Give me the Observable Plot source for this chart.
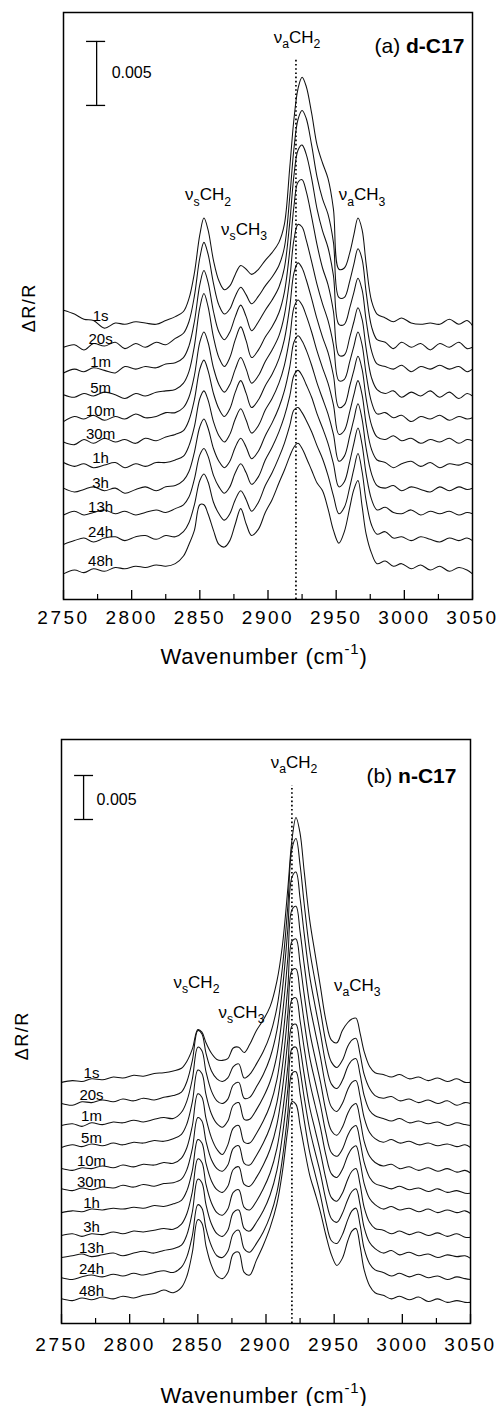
<!DOCTYPE html>
<html>
<head>
<meta charset="utf-8">
<script src="https://cdn.jsdelivr.net/npm/d3@7"></script>
<script src="https://cdn.jsdelivr.net/npm/@observablehq/plot@0.6"></script>
<style>
  html, body { margin: 0; padding: 0; background: #fff; }
  #chart { width: 500px; }
  #chart svg { display: block; }
  .tl text { letter-spacing: 2.5px; }
  .ylab text { letter-spacing: 1.5px; }
  .title text { letter-spacing: 0.8px; }
</style>
</head>
<body>
<div id="chart"></div>
<script>
// ---------------- DATA ----------------
// Wavenumber sampling (cm-1)
const wavenumbers = [2750, 2758, 2765, 2772, 2780, 2788, 2795, 2803, 2810, 2818, 2825, 2832, 2838, 2842, 2846, 2850, 2853, 2856, 2860, 2864, 2868, 2872, 2876, 2880, 2884, 2888, 2893, 2898, 2903, 2908, 2912, 2916, 2919, 2922, 2925, 2928, 2932, 2936, 2940, 2944, 2948, 2952, 2956, 2960, 2963, 2966, 2969, 2972, 2976, 2980, 2986, 2992, 2998, 3005, 3012, 3019, 3026, 3033, 3040, 3046, 3050];
const seriesNames = ["1s", "20s", "1m", "5m", "10m", "30m", "1h", "3h", "13h", "24h", "48h"];

// Panel (a) d-C17 : spectra in units of 1e-3 ΔR/R relative to each stacking offset
const offsetsA = [21.5, 19.7, 17.9, 15.9, 14.1, 12.3, 10.4, 8.5, 6.6, 4.6, 2.4];
const a1s  = [1.1, 0.8, 0.4, 0.3, -0.3, 0.1, 0.0, 0.2, 0.1, 0.0, 0.3, 0.6, 1.0, 2.0, 4.0, 7.0, 8.3, 7.4, 5.0, 3.4, 2.7, 3.0, 3.9, 4.6, 4.3, 3.9, 4.3, 5.0, 5.6, 6.4, 7.8, 12.3, 16.0, 18.4, 19.3, 18.6, 16.5, 14.0, 12.6, 11.4, 9.0, 4.3, 4.4, 5.6, 7.0, 8.3, 7.4, 4.7, 1.8, 0.8, 0.5, 0.2, 0.5, 0.1, 0.0, 0.1, 0.0, 0.4, 0.0, 0.3, -0.1];
const a20s = [0.0, 0.2, -0.2, 0.3, 0.1, 0.4, -0.1, 0.3, 0.0, 0.4, 0.2, 0.7, 1.1, 2.0, 4.0, 7.0, 8.2, 7.3, 5.0, 3.3, 2.6, 3.0, 4.0, 4.7, 4.1, 3.4, 4.0, 4.8, 5.5, 6.4, 7.8, 11.8, 15.5, 17.8, 18.5, 17.9, 15.8, 13.3, 11.6, 10.4, 8.2, 3.9, 3.9, 5.2, 6.5, 7.7, 6.9, 4.3, 1.6, 0.6, 0.4, -0.1, 0.4, 0.0, 0.3, -0.2, 0.3, 0.0, 0.4, -0.1, 0.0];
const a1m  = [-0.2, 0.1, -0.1, 0.2, 0.0, -0.2, 0.3, 0.1, 0.3, 0.2, 0.5, 0.6, 1.0, 1.9, 3.8, 6.7, 7.8, 6.9, 4.6, 3.0, 2.4, 3.0, 4.2, 5.1, 4.2, 3.1, 3.8, 4.7, 5.5, 6.5, 8.0, 11.6, 15.2, 17.2, 17.6, 16.9, 15.0, 12.6, 10.9, 9.6, 7.4, 3.6, 3.6, 4.9, 6.1, 7.2, 6.3, 3.9, 1.5, 0.5, 0.3, 0.1, 0.4, -0.1, 0.3, 0.1, 0.4, 0.1, 0.3, -0.1, 0.1];
const a5m  = [0.1, -0.1, 0.2, 0.0, 0.3, 0.1, -0.2, 0.2, 0.0, 0.3, 0.4, 0.5, 1.0, 1.9, 3.9, 6.9, 8.0, 7.0, 4.6, 3.0, 2.3, 3.0, 4.4, 5.4, 4.3, 3.0, 3.6, 4.6, 5.4, 6.5, 8.1, 11.4, 14.8, 16.7, 16.9, 16.0, 14.0, 11.8, 10.0, 8.7, 6.6, 3.2, 3.2, 4.6, 5.8, 6.9, 6.0, 3.7, 1.4, 0.5, 0.2, 0.4, -0.1, 0.3, 0.0, 0.4, -0.1, 0.3, -0.2, 0.2, 0.0];
const a10m = [-0.2, 0.2, 0.0, 0.3, -0.1, 0.2, 0.0, 0.4, 0.1, 0.2, 0.5, 0.5, 0.9, 1.7, 3.4, 6.0, 6.8, 6.0, 4.0, 2.7, 2.1, 2.7, 3.9, 4.8, 3.9, 2.8, 3.4, 4.5, 5.4, 6.5, 8.1, 11.0, 14.0, 15.2, 15.0, 14.0, 12.3, 10.5, 9.0, 7.7, 5.8, 3.0, 3.1, 4.5, 5.7, 6.8, 5.8, 3.5, 1.3, 0.4, 0.5, 0.1, 0.3, -0.2, 0.2, 0.0, 0.3, -0.1, 0.2, 0.0, 0.1];
const a30m = [0.0, -0.2, 0.2, -0.1, 0.3, 0.0, 0.2, -0.1, 0.3, 0.1, 0.4, 0.6, 0.9, 1.7, 3.3, 5.7, 6.4, 5.6, 3.8, 2.6, 2.0, 2.6, 3.9, 4.8, 3.8, 2.7, 3.3, 4.4, 5.3, 6.5, 8.0, 10.6, 13.2, 14.0, 13.6, 12.7, 11.2, 9.6, 8.2, 7.0, 5.2, 2.7, 2.9, 4.4, 5.6, 6.7, 5.7, 3.4, 1.3, 0.4, 0.2, 0.5, 0.1, 0.3, -0.1, 0.2, 0.0, 0.3, -0.1, 0.2, 0.1];
const a1h  = [0.3, 0.0, 0.2, -0.1, 0.1, 0.3, -0.1, 0.2, 0.0, 0.3, 0.3, 0.5, 0.8, 1.6, 3.1, 5.3, 5.9, 5.2, 3.5, 2.4, 1.9, 2.5, 3.7, 4.5, 3.6, 2.6, 3.2, 4.4, 5.3, 6.5, 7.9, 10.1, 12.4, 13.0, 12.6, 11.8, 10.5, 9.0, 7.7, 6.5, 4.8, 2.5, 2.8, 4.3, 5.6, 6.7, 5.6, 3.3, 1.3, 0.5, 0.3, -0.1, 0.2, 0.4, 0.0, 0.3, -0.1, 0.2, 0.1, 0.3, 0.1];
const a3h  = [0.2, -0.1, 0.1, 0.3, 0.0, 0.2, -0.2, 0.1, 0.3, 0.0, 0.3, 0.4, 0.8, 1.5, 3.0, 5.0, 5.6, 4.9, 3.3, 2.3, 1.8, 2.3, 3.4, 4.1, 3.4, 2.5, 3.1, 4.3, 5.3, 6.5, 7.8, 9.7, 11.6, 12.1, 11.7, 11.0, 9.8, 8.4, 7.2, 6.0, 4.4, 2.3, 2.7, 4.3, 5.6, 6.8, 5.6, 3.3, 1.3, 0.4, 0.2, 0.4, 0.0, 0.3, 0.1, -0.1, 0.3, 0.0, 0.3, 0.1, 0.2];
const a13h = [0.0, 0.3, 0.0, 0.2, 0.4, 0.1, 0.3, 0.0, 0.2, 0.4, 0.2, 0.5, 0.8, 1.4, 2.8, 4.7, 5.2, 4.6, 3.1, 2.2, 1.7, 2.2, 3.3, 4.0, 3.3, 2.4, 3.0, 4.3, 5.3, 6.5, 7.7, 9.3, 10.9, 11.3, 10.9, 10.2, 9.2, 7.9, 6.8, 5.6, 4.0, 2.2, 2.6, 4.2, 5.6, 6.8, 5.5, 3.2, 1.2, 0.4, 0.6, 0.2, 0.1, 0.4, 0.0, 0.3, 0.1, 0.3, 0.0, 0.2, 0.1];
const a24h = [-0.3, 0.0, 0.2, -0.1, 0.2, 0.3, 0.0, 0.3, 0.4, 0.1, 0.4, 0.3, 0.7, 1.4, 2.8, 4.7, 5.2, 4.6, 3.0, 2.1, 1.6, 2.1, 3.2, 3.9, 3.2, 2.3, 3.0, 4.3, 5.3, 6.5, 7.6, 9.0, 10.2, 10.4, 10.0, 9.4, 8.5, 7.4, 6.4, 5.1, 3.5, 2.1, 2.6, 4.2, 5.6, 6.8, 5.4, 3.1, 1.2, 0.5, 0.7, 0.2, 0.3, 0.0, 0.3, 0.1, -0.1, 0.2, 0.0, 0.2, 0.0];
const a48h = [-0.4, -0.1, -0.3, 0.0, -0.2, 0.1, 0.0, 0.2, 0.1, 0.3, 0.2, 0.4, 1.0, 1.9, 3.0, 5.0, 5.0, 4.3, 3.0, 1.9, 1.7, 2.2, 3.5, 4.7, 3.5, 2.6, 3.1, 4.4, 5.4, 6.7, 7.7, 8.8, 9.5, 9.8, 9.4, 8.7, 7.7, 6.7, 6.1, 4.7, 3.0, 2.0, 2.9, 4.8, 6.2, 6.9, 4.9, 2.7, 1.2, 0.4, 0.6, 0.2, 0.4, 0.0, 0.3, -0.1, 0.2, -0.2, 0.1, -0.1, -0.4];

// Panel (b) n-C17
const offsetsB = [27.4, 24.9, 22.5, 20.0, 17.4, 15.0, 12.6, 9.9, 7.5, 5.1, 2.6];
const b1s  = [0.0, 0.2, 0.1, 0.4, 0.3, 0.6, 0.5, 0.8, 0.7, 1.0, 1.1, 1.3, 1.6, 2.4, 3.8, 6.0, 5.7, 4.5, 3.3, 2.6, 2.5, 2.7, 3.9, 4.0, 3.4, 4.3, 5.9, 7.1, 8.6, 11.5, 15.5, 22.0, 27.5, 30.1, 28.3, 24.0, 18.5, 14.6, 10.8, 7.0, 4.8, 4.5, 5.9, 6.8, 7.2, 7.3, 5.6, 3.5, 1.8, 1.1, 0.9, 0.6, 0.9, 0.4, 0.6, 0.2, 0.5, 0.1, 0.4, 0.0, 0.0];
const b20s = [0.1, -0.1, 0.3, 0.2, 0.5, 0.3, 0.6, 0.4, 0.7, 0.5, 0.8, 1.0, 1.4, 2.6, 5.0, 8.4, 8.0, 5.8, 3.8, 2.9, 2.6, 3.0, 4.3, 4.6, 3.0, 3.4, 4.6, 6.0, 7.9, 11.0, 15.5, 22.5, 29.0, 30.2, 27.2, 22.8, 17.6, 14.0, 10.6, 7.0, 4.8, 4.2, 5.0, 6.6, 7.3, 7.5, 5.7, 3.4, 1.8, 1.0, 0.7, 0.9, 0.4, 0.6, 0.2, 0.5, 0.1, 0.4, -0.1, 0.2, 0.1];
const b1m  = [0.0, 0.2, -0.1, 0.3, 0.1, 0.4, 0.3, 0.6, 0.4, 0.7, 0.9, 0.8, 1.5, 2.8, 5.3, 8.9, 8.5, 6.1, 3.9, 2.8, 2.5, 3.0, 4.6, 4.9, 3.1, 3.2, 4.4, 5.8, 7.7, 10.8, 15.4, 22.3, 28.2, 28.8, 25.8, 21.8, 17.0, 13.6, 10.4, 6.9, 4.7, 4.2, 5.1, 6.7, 7.4, 7.6, 5.8, 3.4, 1.7, 1.1, 0.8, 0.5, 0.8, 0.3, 0.5, 0.2, 0.4, 0.0, 0.3, 0.1, 0.0];
const b5m  = [0.0, 0.3, 0.1, 0.4, 0.2, 0.5, 0.3, 0.6, 0.5, 0.8, 0.7, 1.0, 1.5, 2.7, 5.2, 8.8, 8.4, 6.0, 3.8, 2.7, 2.3, 3.0, 4.8, 5.1, 3.2, 3.2, 4.3, 5.7, 7.5, 10.5, 15.0, 21.5, 27.0, 27.4, 24.5, 20.8, 16.3, 13.2, 10.2, 6.8, 4.6, 4.1, 5.0, 6.6, 7.4, 7.6, 5.8, 3.4, 1.7, 1.0, 0.6, 0.9, 0.5, 0.7, 0.3, 0.5, 0.2, 0.4, 0.1, 0.3, 0.0];
const b10m = [0.2, 0.0, 0.3, 0.2, 0.5, 0.3, 0.6, 0.4, 0.7, 0.6, 0.9, 0.8, 1.4, 2.6, 5.1, 8.7, 8.3, 5.9, 3.7, 2.4, 1.8, 2.9, 4.8, 5.1, 3.2, 3.1, 4.2, 5.6, 7.4, 10.3, 14.6, 20.8, 26.0, 26.3, 23.5, 20.0, 15.8, 12.8, 10.0, 6.7, 4.5, 4.0, 4.9, 6.5, 7.3, 7.6, 5.8, 3.3, 1.6, 0.9, 0.5, 0.7, 0.2, 0.4, 0.0, 0.3, -0.1, 0.2, -0.2, 0.0, -0.3];
const b30m = [0.3, 0.1, 0.4, 0.2, 0.5, 0.4, 0.7, 0.5, 0.8, 0.6, 0.9, 1.0, 1.4, 2.5, 4.9, 8.4, 8.0, 5.7, 3.6, 2.6, 2.3, 3.0, 4.9, 5.2, 3.2, 3.0, 4.1, 5.5, 7.3, 10.1, 14.2, 20.2, 25.1, 25.3, 22.6, 19.3, 15.3, 12.5, 9.8, 6.6, 4.4, 4.0, 4.8, 6.4, 7.2, 7.5, 5.7, 3.3, 1.6, 0.9, 0.6, 0.3, 0.6, 0.2, 0.4, 0.0, 0.3, -0.1, 0.1, -0.2, -0.2];
const b1h  = [0.0, 0.2, 0.1, 0.4, 0.3, 0.5, 0.4, 0.6, 0.5, 0.8, 0.7, 1.0, 1.4, 2.5, 4.8, 8.3, 7.9, 5.6, 3.6, 2.6, 2.3, 3.0, 4.9, 5.2, 3.2, 3.0, 4.0, 5.4, 7.2, 10.0, 14.0, 19.6, 24.2, 24.4, 21.8, 18.7, 14.9, 12.2, 9.6, 6.5, 4.4, 4.0, 4.9, 6.5, 7.3, 7.6, 5.8, 3.3, 1.6, 0.9, 0.4, 0.7, 0.3, 0.5, 0.1, 0.4, 0.0, 0.3, 0.0, 0.2, -0.1];
const b3h  = [0.1, 0.3, 0.0, 0.3, 0.2, 0.5, 0.3, 0.6, 0.5, 0.7, 0.9, 0.8, 1.4, 2.6, 5.1, 8.8, 8.4, 5.9, 3.8, 2.7, 2.4, 3.1, 5.0, 5.3, 3.3, 3.0, 4.0, 5.4, 7.2, 10.0, 13.9, 19.3, 23.9, 24.1, 21.5, 18.4, 14.7, 12.1, 9.5, 6.5, 4.4, 4.0, 4.9, 6.5, 7.4, 7.7, 5.9, 3.3, 1.6, 0.9, 0.7, 0.3, 0.6, 0.2, 0.5, 0.1, 0.4, 0.0, 0.3, -0.1, -0.1];
const b13h = [0.0, 0.2, 0.4, 0.1, 0.3, 0.5, 0.2, 0.5, 0.7, 0.5, 0.8, 1.0, 1.4, 2.6, 5.2, 8.9, 8.5, 6.0, 3.8, 2.7, 2.4, 3.1, 5.1, 5.4, 3.3, 3.0, 4.0, 5.3, 7.1, 9.9, 13.8, 19.1, 23.7, 23.9, 21.3, 18.2, 14.6, 12.0, 9.5, 6.5, 4.4, 4.0, 5.0, 6.6, 7.5, 7.8, 6.0, 3.4, 1.7, 1.0, 0.5, 0.8, 0.3, 0.6, 0.2, 0.4, 0.0, 0.3, 0.1, 0.2, -0.1];
const b24h = [0.1, -0.1, 0.2, 0.4, 0.2, 0.5, 0.3, 0.6, 0.4, 0.7, 0.9, 0.7, 1.3, 2.5, 4.9, 8.4, 8.0, 5.7, 3.7, 2.6, 2.4, 3.1, 5.1, 5.5, 3.4, 3.0, 4.0, 5.3, 7.1, 9.8, 13.6, 18.8, 23.3, 23.5, 21.0, 18.0, 14.4, 11.9, 9.4, 6.4, 4.3, 4.0, 5.0, 6.7, 7.7, 8.0, 6.1, 3.4, 1.7, 1.0, 0.7, 0.3, 0.6, 0.2, 0.5, 0.1, 0.3, -0.1, 0.2, 0.0, -0.1];
const b48h = [0.2, 0.0, 0.3, 0.1, 0.4, 0.2, 0.5, 0.3, 0.6, 0.8, 1.2, 0.9, 1.5, 2.8, 5.5, 9.2, 8.8, 6.2, 4.0, 2.8, 2.5, 3.2, 5.3, 5.5, 3.2, 2.9, 4.6, 6.3, 8.3, 11.0, 14.6, 19.5, 22.6, 22.3, 19.9, 17.4, 14.3, 12.2, 10.0, 7.4, 5.2, 4.0, 4.8, 6.8, 7.9, 8.2, 6.2, 3.5, 1.7, 0.9, 0.6, 0.2, 0.5, 0.1, 0.4, -0.1, 0.2, -0.2, 0.0, -0.2, -0.2];

const majorTicks = [2750, 2800, 2850, 2900, 2950, 3000, 3050];
const minorTicks = [2775, 2825, 2875, 2925, 2975, 3025];

// Annotations (x: wavenumber, y: ΔR/R)
const annA = [
  {wn: 2921.3, y: 0.0439, t: "ν_{a}CH_{2}"},
  {wn: 2856.0, y: 0.0316, t: "ν_{s}CH_{2}"},
  {wn: 2882.4, y: 0.0289, t: "ν_{s}CH_{3}"},
  {wn: 2969.0, y: 0.0316, t: "ν_{a}CH_{3}"}
];
const annB = [
  {wn: 2920.6, y: 0.06375, t: "ν_{a}CH_{2}"},
  {wn: 2849.0, y: 0.0387, t: "ν_{s}CH_{2}"},
  {wn: 2882.0, y: 0.0353, t: "ν_{s}CH_{3}"},
  {wn: 2967.0, y: 0.0384, t: "ν_{a}CH_{3}"}
];

// ---------------- DRAWING ----------------
const FONT = "'Liberation Sans', Arial, Helvetica, sans-serif";

function panel(cfg) {
  const rows = cfg.arrs.flatMap((arr, i) =>
    arr.map((v, j) => ({wn: wavenumbers[j], y: (cfg.offsets[i] + v) * 1e-3, s: seriesNames[i]})));
  const innerH = cfg.height - cfg.mt - cfg.mb;
  const perPx = cfg.yMax / innerH;
  const sb = cfg.scale;
  return Plot.plot({
    width: 500,
    height: cfg.height,
    marginTop: cfg.mt, marginBottom: cfg.mb, marginLeft: cfg.ml, marginRight: cfg.mr,
    x: {domain: [2750, 3050], axis: null},
    y: {domain: [0, cfg.yMax], axis: null},
    style: {fontFamily: FONT, background: "#fff", color: "#000", overflow: "visible"},
    marks: [
      Plot.ruleX([cfg.dotted], {x: "wn", y1: 0, y2: "top", strokeDasharray: "1.6,2.6", strokeWidth: 1.7, stroke: "#000"}),
      Plot.line(rows, {x: "wn", y: "y", z: "s", curve: "catmull-rom", stroke: "#111", strokeWidth: 1.05}),
      Plot.text(seriesNames, {x: cfg.labelWn, y: (d, i) => cfg.offsets[i] * 1e-3, text: d => d,
        dy: cfg.labelDy, fontSize: 15, textAnchor: "middle", lineAnchor: "middle"}),
      Plot.text(cfg.ann, {x: "wn", y: "y", text: "t", fontSize: 17, textAnchor: "middle", lineAnchor: "middle", className: "rich"}),
      Plot.text([cfg.tag], {x: "wn", y: "y", text: "t", fontSize: 21, textAnchor: "end", lineAnchor: "middle", className: "rich"}),
      // scale bar
      Plot.ruleX([sb], {x: "wn", y1: "y1", y2: d => d.y1 + 0.005, strokeWidth: 1.3}),
      Plot.ruleY([sb.y1, sb.y1 + 0.005], {y: d => d, x1: sb.c1, x2: sb.c2, strokeWidth: 1.3}),
      Plot.text([sb], {x: "tx", y: "ty", text: () => "0.005", fontSize: 16, textAnchor: "start", lineAnchor: "middle"}),
      // frame & ticks
      Plot.frame({strokeWidth: 1.5}),
      Plot.ruleX(majorTicks, {x: d => d, y1: 0, y2: 9 * perPx, strokeWidth: 1.3}),
      Plot.ruleX(minorTicks, {x: d => d, y1: 0, y2: 5 * perPx, strokeWidth: 1.2}),
      Plot.text(majorTicks, {x: d => d, frameAnchor: "bottom", dy: cfg.tickPad, lineAnchor: "top",
        text: d => String(d), fontSize: 19, className: "tl"}),
      Plot.text(["Wavenumber (cm^{-1})"], {frameAnchor: "bottom", dy: cfg.titleDy, dx: cfg.titleDx,
        lineAnchor: "middle", text: d => d, fontSize: 22, className: "rich title"}),
      Plot.text(["ΔR/R"], {frameAnchor: "left", y: cfg.ylabY, dx: cfg.ylabDx, rotate: -90,
        text: d => d, fontSize: 18, textAnchor: "middle", lineAnchor: "middle", className: "ylab"})
    ]
  });
}

function richText(root) {
  const NS = "http://www.w3.org/2000/svg";
  root.querySelectorAll("g.rich text").forEach(el => {
    const src = el.textContent;
    const fs = parseFloat(getComputedStyle(el).fontSize) || 16;
    while (el.firstChild) el.removeChild(el.firstChild);
    let shift = 0;
    const re = /([_^*])\{([^}]*)\}|([^_^*]+)/g;
    let m;
    while ((m = re.exec(src))) {
      const ts = document.createElementNS(NS, "tspan");
      let target = 0, size = null, bold = false, txt;
      if (m[3] !== undefined) { txt = m[3]; }
      else if (m[1] === "_") { txt = m[2]; target = 0.3 * fs; size = 0.72 * fs; }
      else if (m[1] === "^") { txt = m[2]; target = -0.42 * fs; size = 0.68 * fs; }
      else { txt = m[2]; bold = true; }
      const dy = target - shift;
      if (dy) ts.setAttribute("dy", dy.toFixed(2));
      shift = target;
      if (size) ts.setAttribute("font-size", size.toFixed(2));
      if (bold) ts.setAttribute("font-weight", "bold");
      ts.textContent = txt;
      el.appendChild(ts);
    }
  });
}

const chart = document.getElementById("chart");

const figA = panel({
  arrs: [a1s, a20s, a1m, a5m, a10m, a30m, a1h, a3h, a13h, a24h, a48h],
  offsets: offsetsA,
  yMax: 0.04586,
  height: 680, mt: 12, mb: 81, ml: 63, mr: 28,
  labelWn: 2777.2, labelDy: -8,
  ann: annA,
  tag: {wn: 3044, y: 0.0432, t: "(a) *{d-C17}"},
  scale: {wn: 2774.3, y1: 0.0386, c1: 2766.9, c2: 2780.9, tx: 2785.3, ty: 0.04117},
  dotted: {wn: 2920.5, top: 0.0423},
  tickPad: 11, titleDy: 57, titleDx: -4,
  ylabY: 0.0228, ylabDx: -34
});
chart.appendChild(figA);

const figB = panel({
  arrs: [b1s, b20s, b1m, b5m, b10m, b30m, b1h, b3h, b13h, b24h, b48h],
  offsets: offsetsB,
  yMax: 0.06636,
  height: 726, mt: 59, mb: 83, ml: 61, mr: 30,
  labelWn: 2772, labelDy: -9,
  ann: annB,
  tag: {wn: 3039.7, y: 0.0622, t: "(b) *{n-C17}"},
  scale: {wn: 2766.2, y1: 0.05727, c1: 2759.6, c2: 2773.5, tx: 2775.7, ty: 0.0595},
  dotted: {wn: 2919, top: 0.0611},
  tickPad: 13.5, titleDy: 72, titleDx: -2,
  ylabY: 0.0327, ylabDx: -39
});
chart.appendChild(figB);

richText(chart);
</script>
</body>
</html>
